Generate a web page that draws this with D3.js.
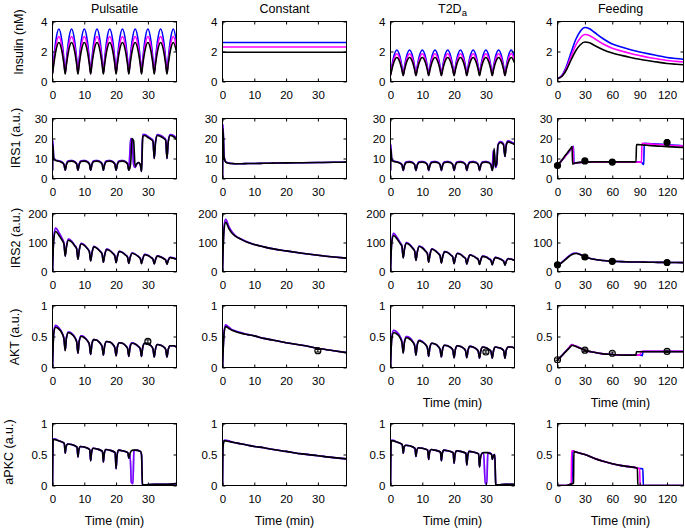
<!DOCTYPE html>
<html><head><meta charset="utf-8">
<script src="https://cdn.jsdelivr.net/npm/d3@7"></script>
<style>body{margin:0;background:#fff} text{font-family:"Liberation Sans",Arial,sans-serif;fill:#000}</style>
</head><body><svg id="c" width="685" height="528"></svg>
<script>
// ---------- categories / labels ----------
const colTitles = ["Pulsatile","Constant","T2D","Feeding"];
const rowLabels = ["Insulin (nM)","IRS1 (a.u.)","IRS2 (a.u.)","AKT (a.u.)","aPKC (a.u.)"];
const yDomains = [[0,4],[0,30],[0,200],[0,1],[0,1]];
const yTicks = [[0,2,4],[0,10,20,30],[0,100,200],[0,0.5,1],[0,0.5,1]];
const xDomains = [[0,39],[0,39],[0,39],[0,138]];
const xTicksTime = [0,10,20,30];
const xTicksFeed = [0,30,60,90,120];
const colors = {b:"#0000ff", m:"#ff00ff", k:"#000000"};

// ---------- time grids ----------
const tP = [0,0.4,1,2,3,3.6, 4,4.4,5,6,7,7.6, 8,8.4,9,10,11,11.6, 12,12.4,13,14,15,15.6, 16,16.4,17,18,19,19.6,
 20,20.4,21,22,23,23.6, 24,24.4,25,26,27,27.6, 28,28.4,29,30,31,31.6, 32,32.4,33,34,35,35.6, 36,36.4,37,38,39];
const tC = [0,0.15,0.5,1,2,3,4,6,8,10,13,16,20,25,30,35,39];
const tCI = [0,39];

// ---------- Insulin ----------
const insPulseBlue = [0.6,1.5,2.65,3.5,2.65,1.5, 0.6,1.5,2.65,3.5,2.65,1.5, 0.6,1.5,2.65,3.5,2.65,1.5, 0.6,1.5,2.65,3.5,2.65,1.5, 0.6,1.5,2.65,3.5,2.65,1.5,
 0.6,1.5,2.65,3.5,2.65,1.5, 0.6,1.5,2.65,3.5,2.65,1.5, 0.6,1.5,2.65,3.5,2.65,1.5, 0.6,1.5,2.65,3.5,2.65,1.5, 0.6,1.5,2.65,3.5,2.65];
const insPulseMag = [0.55,1.31,2.28,3.0,2.28,1.31, 0.55,1.31,2.28,3.0,2.28,1.31, 0.55,1.31,2.28,3.0,2.28,1.31, 0.55,1.31,2.28,3.0,2.28,1.31, 0.55,1.31,2.28,3.0,2.28,1.31,
 0.55,1.31,2.28,3.0,2.28,1.31, 0.55,1.31,2.28,3.0,2.28,1.31, 0.55,1.31,2.28,3.0,2.28,1.31, 0.55,1.31,2.28,3.0,2.28,1.31, 0.55,1.31,2.28,3.0,2.28];
const insPulseBlack = [0.5,1.15,1.98,2.6,1.98,1.15, 0.5,1.15,1.98,2.6,1.98,1.15, 0.5,1.15,1.98,2.6,1.98,1.15, 0.5,1.15,1.98,2.6,1.98,1.15, 0.5,1.15,1.98,2.6,1.98,1.15,
 0.5,1.15,1.98,2.6,1.98,1.15, 0.5,1.15,1.98,2.6,1.98,1.15, 0.5,1.15,1.98,2.6,1.98,1.15, 0.5,1.15,1.98,2.6,1.98,1.15, 0.5,1.15,1.98,2.6,1.98];
const insConstBlue = [2.6,2.6], insConstMag = [2.3,2.3], insConstBlack = [1.95,1.95];
const insT2DBlue = [0.5,0.99,1.63,2.1,1.63,0.99, 0.5,0.99,1.63,2.1,1.63,0.99, 0.5,0.99,1.63,2.1,1.63,0.99, 0.5,0.99,1.63,2.1,1.63,0.99, 0.5,0.99,1.63,2.1,1.63,0.99,
 0.5,0.99,1.63,2.1,1.63,0.99, 0.5,0.99,1.63,2.1,1.63,0.99, 0.5,0.99,1.63,2.1,1.63,0.99, 0.5,0.99,1.63,2.1,1.63,0.99, 0.5,0.99,1.63,2.1,1.63];
const insT2DMag = [0.45,0.88,1.44,1.85,1.44,0.88, 0.45,0.88,1.44,1.85,1.44,0.88, 0.45,0.88,1.44,1.85,1.44,0.88, 0.45,0.88,1.44,1.85,1.44,0.88, 0.45,0.88,1.44,1.85,1.44,0.88,
 0.45,0.88,1.44,1.85,1.44,0.88, 0.45,0.88,1.44,1.85,1.44,0.88, 0.45,0.88,1.44,1.85,1.44,0.88, 0.45,0.88,1.44,1.85,1.44,0.88, 0.45,0.88,1.44,1.85,1.44];
const insT2DBlack = [0.4,0.77,1.25,1.6,1.25,0.77, 0.4,0.77,1.25,1.6,1.25,0.77, 0.4,0.77,1.25,1.6,1.25,0.77, 0.4,0.77,1.25,1.6,1.25,0.77, 0.4,0.77,1.25,1.6,1.25,0.77,
 0.4,0.77,1.25,1.6,1.25,0.77, 0.4,0.77,1.25,1.6,1.25,0.77, 0.4,0.77,1.25,1.6,1.25,0.77, 0.4,0.77,1.25,1.6,1.25,0.77, 0.4,0.77,1.25,1.6,1.25];
const tFI = [0,5,10,15,20,25,30,35,40,50,60,70,80,90,100,110,120,130,138];
const insFeedBlue = [0.2,0.42,1.05,1.95,2.8,3.35,3.6,3.52,3.3,2.85,2.5,2.3,2.12,1.97,1.84,1.72,1.6,1.53,1.48];
const insFeedMag = [0.2,0.38,0.92,1.7,2.42,2.9,3.13,3.06,2.88,2.5,2.22,2.03,1.87,1.73,1.6,1.5,1.4,1.34,1.3];
const insFeedBlack = [0.2,0.35,0.8,1.45,2.05,2.45,2.63,2.58,2.42,2.12,1.9,1.74,1.6,1.48,1.38,1.29,1.2,1.15,1.12];

// ---------- IRS1 ----------
const tI1P = [0,0.1,0.4,1,2,3,3.6, 4,4.4,5,6,7,7.6, 8,8.4,9,10,11,11.6, 12,12.4,13,14,15,15.6, 16,16.4,17,18,19,19.6,
 20,20.4,21,22,23,23.6, 24,24.3,24.6,25,25.5,26,26.4,27,27.6, 28,28.2,28.4,29,30,31,31.6, 32,32.4,33,34,35,35.6, 36,36.4,37,38,39];
const irs1PulseBlack = [4,17,9.5,9,8.6,8,7, 4.2,7,8.5,8.7,8.2,7.2, 4.2,7,8.5,8.7,8.2,7.2, 4.2,7,8.5,8.7,8.2,7.2, 4.2,7,8.5,8.7,8.2,7.2,
 4.2,7,8.5,8.7,8.2,7.2, 4.2,5,8,20,19,6,7,8,7, 3.5,12,21,21.5,20.5,19.5,18.5, 10,18,21.5,21,20,19, 10,18,21.5,21,19.5];
const irs1PulseBM = [4,19,10,9.2,8.8,8.2,7.2, 4.2,7.2,8.8,9,8.4,7.4, 4.2,7.2,8.8,9,8.4,7.4, 4.2,7.2,8.8,9,8.4,7.4, 4.2,7.2,8.8,9,8.4,7.4,
 4.2,7.2,8.8,9,8.4,7.4, 4.2,12,20,19.5,7,5.5,7,8,7, 3.5,16,22,22,21,20,19, 10,18.5,22,21.5,20.5,19.5, 10,18.5,22,21.5,20];
const irs1ConstBlack = [0,25,10,8.2,7.6,7.5,7.4,7.4,7.5,7.5,7.6,7.7,7.8,7.9,8,8.1,8.2];
const irs1ConstBM = [0,27,11,8.4,7.7,7.5,7.4,7.4,7.5,7.5,7.6,7.7,7.8,7.9,8,8.1,8.2];
const tI1T = [0,0.1,0.4,1,2,3,3.6, 4,4.4,5,6,7,7.6, 8,8.4,9,10,11,11.6, 12,12.4,13,14,15,15.6, 16,16.4,17,18,19,19.6,
 20,20.4,21,22,23,23.6, 24,24.4,25,26,27,27.6, 28,28.4,29,30,31,31.6, 32,32.3,32.6,33,33.4,33.8,34.5,35.5, 36,36.4,37,38,39];
const irs1T2DBlack = [4,15,9,8.5,8.2,7.6,6.8, 4,6.6,8,8.2,7.8,6.8, 4,6.6,8,8.2,7.8,6.8, 4,6.6,8,8.2,7.8,6.8, 4,6.6,8,8.2,7.8,6.8,
 4,6.6,8,8.2,7.8,6.8, 4,6.6,8,8.2,7.8,6.8, 4,6.6,8,8.2,7.8,6.8, 4,6,15,6,7.5,16.5,18,17, 11,16.5,18.3,17.8,17];
const irs1T2DBM = [4,17,9.5,8.8,8.4,7.8,7, 4,6.8,8.3,8.5,8,7, 4,6.8,8.3,8.5,8,7, 4,6.8,8.3,8.5,8,7, 4,6.8,8.3,8.5,8,7,
 4,6.8,8.3,8.5,8,7, 4,6.8,8.3,8.5,8,7, 4,6.8,8.3,8.5,8,7, 4,14,13,5.5,7,17,18.5,17.5, 11,17,18.8,18.3,17.5];
const tFR = [0,4,8,12,15,16,16.5,17,17.5,18,20,30,40,60,80,86,86.5,87,90,92,92.5,93,94.5,95,100,110,120,130,138];
const irs1FeedBlue = [6.5,8.5,10.8,13,14.7,15.2,15.6,15.9,16.1,7.5,7.7,8.1,8.2,8.2,8.2,8.2,8.2,8.2,8.2,8.1,8,7.5,7,17.6,17.5,17.2,16.9,16.6,16.4];
const irs1FeedMag = [6.5,8.6,10.9,13.2,14.9,15.5,15.8,16,7.4,7.5,7.7,8.1,8.2,8.2,8.2,8.2,8.2,8.2,8.2,8.2,17.6,17.6,17.5,17.5,17.3,17,16.7,16.4,16.2];
const irs1FeedBlack = [6.5,8.8,11.2,13.6,15.4,16,7.2,7.3,7.5,7.6,7.8,8.2,8.3,8.3,8.3,8.3,17,17,16.9,16.8,16.8,16.8,16.7,16.7,16.5,16.2,15.9,15.7,15.5];
const irs1DataT = [0,30,60,120], irs1DataV = [6.5,8.8,8.2,18], irs1DataE = [0.6,0.8,0.6,1.5];

// ---------- IRS2 ----------
const irs2PulseBlack = [0,110,138,125,108,95, 52,85,108,102,88,78, 42,72,95,90,78,68, 36,63,85,80,69,60, 32,56,76,72,62,54,
 30,51,69,65,56,49, 28,47,63,59,51,45, 27,44,58,55,48,42, 26,41,53,50,44,39, 25,38,48,46,42];
const irs2PulseBM = [0,118,150,134,114,98, 54,88,112,105,90,79, 43,74,97,92,79,69, 37,64,87,81,70,61, 33,57,77,73,63,55,
 31,52,70,66,57,50, 29,48,64,60,52,46, 28,45,59,56,49,43, 27,42,54,51,45,40, 26,39,49,47,43];
const irs2ConstBlack = [0,60,145,170,148,132,122,110,100,93,85,78,71,63,56,50,46];
const irs2ConstBM = [0,65,155,180,155,136,124,111,101,93,85,78,71,63,56,50,46];
const irs2T2DBlack = [0,100,124,113,97,86, 47,77,97,92,79,70, 38,65,86,81,70,61, 32,57,77,72,62,54, 29,50,68,65,56,49,
 27,46,62,59,50,44, 25,42,57,53,46,41, 24,40,52,50,43,38, 23,37,48,45,40,35, 22,34,44,42,38];
const irs2T2DBM = [0,106,132,118,100,88, 48,79,100,94,81,71, 39,66,88,83,71,62, 33,58,78,73,63,55, 30,51,69,66,57,50,
 28,47,63,60,51,45, 26,43,58,54,47,42, 25,41,53,51,44,39, 24,38,49,46,41,36, 23,35,45,43,39];
const tF2 = [0,3,6,9,12,15,18,21,25,30,35,40,50,60,70,80,90,100,110,120,130,138];
const irs2FeedBM = [23,27,35,44,52,59,63,63,59,52,46,42,38,35,34,33,32.5,32,31.5,31,31,30.5];
const irs2FeedBlack = [23,27,34,42,50,57,61,62,58,51,46,42,38,35,34,33,32.5,32,31.5,31,31,30.5];
const irs2DataT = [0,30,60,120], irs2DataV = [23,50,35,31], irs2DataE = [3,4,3,3];

// ---------- AKT ----------
const aktPulseBlack = [0,0.55,0.65,0.62,0.55,0.46, 0.27,0.48,0.56,0.54,0.48,0.41, 0.23,0.42,0.5,0.48,0.43,0.37, 0.21,0.38,0.45,0.44,0.39,0.34,
 0.2,0.35,0.42,0.41,0.37,0.32, 0.19,0.33,0.4,0.39,0.35,0.31, 0.18,0.32,0.39,0.38,0.34,0.3, 0.18,0.33,0.39,0.38,0.35,0.3,
 0.17,0.3,0.37,0.36,0.33,0.29, 0.17,0.29,0.35,0.35,0.33];
const aktPulseBM = [0,0.58,0.68,0.64,0.56,0.47, 0.28,0.49,0.57,0.55,0.49,0.42, 0.23,0.43,0.51,0.49,0.43,0.37, 0.21,0.38,0.45,0.44,0.39,0.34,
 0.2,0.35,0.42,0.41,0.37,0.32, 0.19,0.33,0.4,0.39,0.35,0.31, 0.18,0.35,0.4,0.38,0.34,0.3, 0.18,0.33,0.39,0.38,0.35,0.3,
 0.17,0.3,0.37,0.36,0.33,0.29, 0.17,0.29,0.35,0.35,0.33];
const aktConstBlack = [0,0.2,0.55,0.66,0.63,0.6,0.58,0.55,0.53,0.51,0.47,0.44,0.4,0.36,0.31,0.27,0.24];
const aktConstBM = [0,0.22,0.58,0.69,0.65,0.61,0.59,0.56,0.53,0.51,0.47,0.44,0.4,0.36,0.31,0.27,0.24];
const aktT2DBlack = [0,0.46,0.56,0.54,0.48,0.4, 0.23,0.41,0.48,0.46,0.41,0.35, 0.2,0.36,0.43,0.41,0.37,0.32, 0.18,0.33,0.39,0.38,0.34,0.29,
 0.17,0.3,0.36,0.35,0.32,0.28, 0.16,0.29,0.35,0.34,0.31,0.27, 0.16,0.28,0.34,0.33,0.3,0.26, 0.15,0.27,0.33,0.32,0.29,0.26,
 0.15,0.27,0.33,0.32,0.3,0.27, 0.15,0.28,0.33,0.33,0.31];
const aktT2DBM = [0,0.49,0.6,0.57,0.5,0.42, 0.24,0.42,0.5,0.48,0.42,0.36, 0.2,0.37,0.44,0.42,0.37,0.32, 0.18,0.33,0.39,0.38,0.34,0.29,
 0.17,0.3,0.36,0.35,0.32,0.28, 0.16,0.29,0.35,0.34,0.31,0.27, 0.16,0.28,0.34,0.33,0.3,0.26, 0.15,0.27,0.33,0.32,0.29,0.26,
 0.15,0.27,0.33,0.32,0.3,0.27, 0.15,0.28,0.33,0.33,0.31];
const tFA = [0,4,8,12,15,16,17,20,25,30,40,50,60,70,80,86,86.5,88,90,92,93,93.5,95,100,110,120,130,138];
const aktFeedBlue = [0.125,0.18,0.245,0.31,0.36,0.37,0.36,0.345,0.31,0.28,0.245,0.22,0.21,0.2,0.2,0.2,0.2,0.2,0.2,0.2,0.19,0.26,0.26,0.26,0.26,0.26,0.26,0.26];
const aktFeedMag = [0.125,0.18,0.245,0.31,0.36,0.37,0.36,0.345,0.31,0.28,0.245,0.22,0.21,0.2,0.2,0.2,0.2,0.2,0.2,0.26,0.26,0.26,0.26,0.26,0.26,0.26,0.26,0.26];
const aktFeedBlack = [0.125,0.18,0.24,0.3,0.35,0.36,0.355,0.34,0.31,0.28,0.245,0.22,0.21,0.2,0.2,0.2,0.255,0.255,0.255,0.255,0.255,0.255,0.255,0.255,0.255,0.255,0.255,0.255];
const aktDataPulseT = [30], aktDataPulseV = [0.42], aktDataPulseE = [0.025];
const aktDataConstT = [30], aktDataConstV = [0.27], aktDataConstE = [0.02];
const aktDataT2DT = [30], aktDataT2DV = [0.25], aktDataT2DE = [0.02];
const aktDataFeedT = [0,30,60,120], aktDataFeedV = [0.125,0.28,0.23,0.26], aktDataFeedE = [0.015,0.02,0.02,0.02];

// ---------- aPKC ----------
const tKP = [0,0.2,0.8,2,3.7, 4,4.3,4.8,6,7.7, 8,8.3,8.8,10,11.7, 12,12.3,12.8,14,15.7, 16,16.3,16.8,18,19.7,
 20,20.3,20.8,22,23.7, 24,24.4,24.8,25.3,25.6,26,27.7, 28,28.3,28.6,29,32,36,39];
const apkcPulseBlack = [0,0.74,0.74,0.72,0.68, 0.52,0.63,0.67,0.66,0.62, 0.46,0.58,0.63,0.62,0.58, 0.4,0.54,0.6,0.59,0.55, 0.38,0.52,0.58,0.57,0.53,
 0.27,0.48,0.57,0.56,0.53, 0.44,0.52,0.56,0.57,0.57,0.57,0.55, 0.5,0.02,0.01,0.01,0.02,0.02,0.03];
const apkcPulseBM = [0,0.75,0.75,0.72,0.68, 0.52,0.63,0.67,0.66,0.62, 0.46,0.58,0.63,0.62,0.58, 0.4,0.54,0.6,0.59,0.55, 0.38,0.52,0.58,0.57,0.53,
 0.27,0.48,0.57,0.56,0.53, 0.44,0.5,0.05,0.03,0.55,0.57,0.55, 0.5,0.02,0.01,0.01,0.02,0.02,0.03];
const apkcConstBlack = [0,0.6,0.72,0.72,0.71,0.7,0.69,0.67,0.65,0.63,0.61,0.58,0.55,0.51,0.48,0.45,0.43];
const apkcConstBM = [0,0.62,0.73,0.73,0.72,0.7,0.69,0.67,0.65,0.63,0.61,0.58,0.55,0.51,0.48,0.45,0.43];
const tKT = [0,0.2,0.8,2,3.7, 4,4.3,4.8,6,7.7, 8,8.3,8.8,10,11.7, 12,12.3,12.8,14,15.7, 16,16.3,16.8,18,19.7,
 20,20.3,20.8,22,23.7, 24,24.3,24.8,26,27.7, 28,28.3,28.8,29.3,29.8,30.3,30.6,31,31.8, 32,32.3,32.8,33.1,33.4,34,36,39];
const apkcT2DBlack = [0,0.72,0.72,0.7,0.66, 0.52,0.62,0.65,0.64,0.6, 0.47,0.57,0.61,0.6,0.57, 0.42,0.54,0.58,0.57,0.54, 0.4,0.52,0.57,0.56,0.53,
 0.36,0.5,0.56,0.55,0.52, 0.33,0.48,0.55,0.54,0.51, 0.3,0.45,0.52,0.53,0.53,0.53,0.53,0.52,0.5, 0.42,0.47,0.5,0.02,0.01,0.01,0.02,0.02];
const apkcT2DBM = [0,0.73,0.73,0.7,0.66, 0.52,0.62,0.65,0.64,0.6, 0.47,0.57,0.61,0.6,0.57, 0.42,0.54,0.58,0.57,0.54, 0.4,0.52,0.57,0.56,0.53,
 0.36,0.5,0.56,0.55,0.52, 0.33,0.48,0.55,0.54,0.51, 0.3,0.45,0.52,0.52,0.03,0.03,0.52,0.53,0.5, 0.42,0.47,0.5,0.02,0.01,0.01,0.02,0.02];
const tFK = [0,10,14,15,15.5,16,16.5,17,17.5,18,20,30,40,50,60,70,80,86,87,87.5,88,89.5,90,90.5,93,93.5,94,100,138];
const apkcFeedBlue = [0,0,0.02,0.025,0.03,0.03,0.56,0.555,0.55,0.55,0.54,0.5,0.44,0.39,0.35,0.32,0.3,0.285,0.28,0.28,0.278,0.275,0.275,0.274,0.27,0.27,0,0,0];
const apkcFeedMag = [0,0,0.02,0.025,0.56,0.56,0.555,0.55,0.55,0.55,0.54,0.5,0.44,0.39,0.35,0.32,0.3,0.285,0.28,0.28,0.278,0.275,0.275,0,0,0,0,0,0];
const apkcFeedBlack = [0,0,0.02,0.025,0.03,0.03,0.03,0.03,0.04,0.55,0.54,0.5,0.44,0.39,0.35,0.32,0.3,0.285,0.28,0.28,0,0,0,0,0,0,0,0,0];

// ---------- panel definitions ----------
const S = (t,v,c,op)=>({t,v,c,op});
const bmSet = (t,bm,k)=>[S(t,bm,"b"),S(t,bm,"m",0.5),S(t,k,"k")];
const panels = [
 {r:0,c:0,s:[S(tP,insPulseBlue,"b"),S(tP,insPulseMag,"m"),S(tP,insPulseBlack,"k")]},
 {r:0,c:1,s:[S(tCI,insConstBlue,"b"),S(tCI,insConstMag,"m"),S(tCI,insConstBlack,"k")]},
 {r:0,c:2,s:[S(tP,insT2DBlue,"b"),S(tP,insT2DMag,"m"),S(tP,insT2DBlack,"k")]},
 {r:0,c:3,s:[S(tFI,insFeedBlue,"b"),S(tFI,insFeedMag,"m"),S(tFI,insFeedBlack,"k")]},
 {r:1,c:0,s:bmSet(tI1P,irs1PulseBM,irs1PulseBlack)},
 {r:1,c:1,s:bmSet(tC,irs1ConstBM,irs1ConstBlack)},
 {r:1,c:2,s:bmSet(tI1T,irs1T2DBM,irs1T2DBlack)},
 {r:1,c:3,s:[S(tFR,irs1FeedBlue,"b"),S(tFR,irs1FeedMag,"m"),S(tFR,irs1FeedBlack,"k")],
   d:{t:irs1DataT,v:irs1DataV,e:irs1DataE,fill:true}},
 {r:2,c:0,s:bmSet(tP,irs2PulseBM,irs2PulseBlack)},
 {r:2,c:1,s:bmSet(tC,irs2ConstBM,irs2ConstBlack)},
 {r:2,c:2,s:bmSet(tP,irs2T2DBM,irs2T2DBlack)},
 {r:2,c:3,s:bmSet(tF2,irs2FeedBM,irs2FeedBlack), d:{t:irs2DataT,v:irs2DataV,e:irs2DataE,fill:true}},
 {r:3,c:0,s:bmSet(tP,aktPulseBM,aktPulseBlack), d:{t:aktDataPulseT,v:aktDataPulseV,e:aktDataPulseE}},
 {r:3,c:1,s:bmSet(tC,aktConstBM,aktConstBlack), d:{t:aktDataConstT,v:aktDataConstV,e:aktDataConstE}},
 {r:3,c:2,s:bmSet(tP,aktT2DBM,aktT2DBlack), d:{t:aktDataT2DT,v:aktDataT2DV,e:aktDataT2DE}},
 {r:3,c:3,s:[S(tFA,aktFeedBlue,"b"),S(tFA,aktFeedMag,"m"),S(tFA,aktFeedBlack,"k")],
   d:{t:aktDataFeedT,v:aktDataFeedV,e:aktDataFeedE}},
 {r:4,c:0,s:bmSet(tKP,apkcPulseBM,apkcPulseBlack)},
 {r:4,c:1,s:bmSet(tC,apkcConstBM,apkcConstBlack)},
 {r:4,c:2,s:bmSet(tKT,apkcT2DBM,apkcT2DBlack)},
 {r:4,c:3,s:[S(tFK,apkcFeedBlue,"b"),S(tFK,apkcFeedMag,"m"),S(tFK,apkcFeedBlack,"k")]}
];

// ---------- layout ----------
const colX = [52.5, 222.5, 390.5, 557.5];
const colW = [124, 124, 124, 126];
const rowY = [21.5, 118.5, 213.5, 305.5, 423.5];
const rowH = [60, 60, 58, 62, 62];
const ylabX = [23, 20, 20, 19, 13];
const ylabY = [42, 138, 238, 337, 452];
const timeLabelPanels = [[3,2],[3,3],[4,0],[4,1],[4,2],[4,3]];

const svg = d3.select("#c");
const defs = svg.append("defs");
const FS = 11.5;

panels.forEach(p=>{
  const x0=colX[p.c], w=colW[p.c], y0=rowY[p.r], h=rowH[p.r];
  const xs=d3.scaleLinear().domain(xDomains[p.c]).range([x0,x0+w]);
  const ys=d3.scaleLinear().domain(yDomains[p.r]).range([y0+h,y0]);
  const id="cp"+p.r+"_"+p.c;
  defs.append("clipPath").attr("id",id).append("rect").attr("x",x0).attr("y",y0-1).attr("width",w).attr("height",h+1);
  const g=svg.append("g");
  const lg=g.append("g").attr("clip-path",`url(#${id})`);
  const line=d3.line().x(d=>xs(d[0])).y(d=>ys(d[1])).curve(d3.curveMonotoneX);
  p.s.forEach(s=>{
    lg.append("path").attr("d",line(s.t.map((t,i)=>[t,s.v[i]])))
      .attr("fill","none").attr("stroke",colors[s.c]).attr("stroke-width",1.6)
      .attr("stroke-opacity",s.op==null?1:s.op).attr("stroke-linejoin","round");
  });
  if(p.d){
    const dg=g.append("g");
    p.d.t.forEach((t,i)=>{
      const cx=xs(t), cy=ys(p.d.v[i]), e1=ys(p.d.v[i]+p.d.e[i]), e2=ys(p.d.v[i]-p.d.e[i]);
      dg.append("line").attr("x1",cx).attr("x2",cx).attr("y1",e1).attr("y2",e2).attr("stroke","#000").attr("stroke-width",1);
      dg.append("line").attr("x1",cx-2).attr("x2",cx+2).attr("y1",e1).attr("y2",e1).attr("stroke","#000");
      dg.append("line").attr("x1",cx-2).attr("x2",cx+2).attr("y1",e2).attr("y2",e2).attr("stroke","#000");
      dg.append("circle").attr("cx",cx).attr("cy",cy).attr("r",3)
        .attr("fill",p.d.fill?"#000":"none").attr("stroke","#000").attr("stroke-width",1.2);
    });
  }
  const xt = p.c===3 ? xTicksFeed : xTicksTime;
  const fmt = d=>String(d);
  const style = sel=>{sel.select(".domain").remove(); sel.selectAll("text").style("font-size",FS+"px").style("font-family","Liberation Sans, Arial, sans-serif").attr("fill","#000"); sel.selectAll("line").attr("stroke","#000");};
  g.append("g").attr("transform",`translate(0,${y0+h})`)
    .call(d3.axisBottom(xs).tickValues(xt).tickSizeInner(-3).tickSizeOuter(0).tickPadding(9).tickFormat(fmt)).call(style);
  g.append("g").attr("transform",`translate(0,${y0})`)
    .call(d3.axisTop(xs).tickValues(xt).tickSizeInner(-3).tickSizeOuter(0).tickFormat("")).call(style);
  g.append("g").attr("transform",`translate(${x0},0)`)
    .call(d3.axisLeft(ys).tickValues(yTicks[p.r]).tickSizeInner(-3).tickSizeOuter(0).tickPadding(5).tickFormat(fmt)).call(style);
  g.append("g").attr("transform",`translate(${x0+w},0)`)
    .call(d3.axisRight(ys).tickValues(yTicks[p.r]).tickSizeInner(-3).tickSizeOuter(0).tickFormat("")).call(style);
  g.append("rect").attr("x",x0).attr("y",y0).attr("width",w).attr("height",h)
    .attr("fill","none").attr("stroke","#000").attr("stroke-width",1);
});

// column titles
colTitles.forEach((t,c)=>{
  const tx=svg.append("text").attr("x",colX[c]+colW[c]/2).attr("y",13).attr("text-anchor","middle")
    .style("font-size","12.5px").text(t);
  if(c===2) tx.append("tspan").attr("dy",3).style("font-size","9.5px").text("a");
});
// row labels
rowLabels.forEach((t,r)=>{
  svg.append("text").attr("transform",`translate(${ylabX[r]},${ylabY[r]}) rotate(-90)`)
    .attr("text-anchor","middle").style("font-size","12.5px").text(t);
});
// time labels
timeLabelPanels.forEach(([r,c])=>{
  svg.append("text").attr("x",colX[c]+colW[c]/2).attr("y",rowY[r]+rowH[r]+39)
    .attr("text-anchor","middle").style("font-size","12.5px").text("Time (min)");
});
</script></body></html>
